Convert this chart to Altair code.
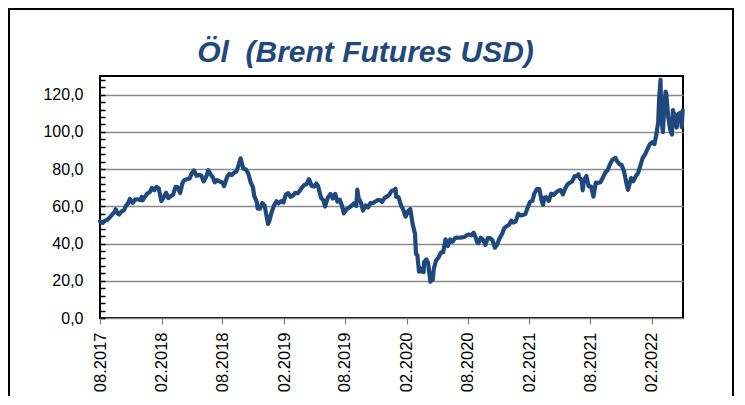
import altair as alt
import pandas as pd

# ---------- data ----------
dates = [
    "2017-08-10", "2017-08-18", "2017-08-25", "2017-09-01", "2017-09-08", "2017-09-15", "2017-09-22", "2017-09-26",
    "2017-10-02", "2017-10-06", "2017-10-13", "2017-10-20", "2017-10-27", "2017-11-03", "2017-11-07", "2017-11-15",
    "2017-11-24", "2017-12-01", "2017-12-08", "2017-12-12", "2017-12-15", "2017-12-22", "2017-12-29",
    "2018-01-05", "2018-01-12", "2018-01-19", "2018-01-25", "2018-02-01", "2018-02-09", "2018-02-16", "2018-02-23",
    "2018-03-02", "2018-03-09", "2018-03-16", "2018-03-23", "2018-03-29", "2018-04-06", "2018-04-13", "2018-04-19",
    "2018-04-27", "2018-05-04", "2018-05-10", "2018-05-17", "2018-05-25", "2018-06-01", "2018-06-08", "2018-06-15",
    "2018-06-22", "2018-06-29", "2018-07-06", "2018-07-13", "2018-07-18", "2018-07-25", "2018-08-03", "2018-08-10",
    "2018-08-15", "2018-08-24", "2018-08-31", "2018-09-07", "2018-09-14", "2018-09-21", "2018-09-28", "2018-10-03",
    "2018-10-11", "2018-10-19", "2018-10-26", "2018-11-02", "2018-11-09", "2018-11-13", "2018-11-20", "2018-11-23",
    "2018-11-30", "2018-12-07", "2018-12-14", "2018-12-18", "2018-12-24", "2018-12-28",
    "2019-01-04", "2019-01-11", "2019-01-18", "2019-01-25", "2019-02-01", "2019-02-08", "2019-02-15", "2019-02-22",
    "2019-03-01", "2019-03-08", "2019-03-15", "2019-03-22", "2019-03-29", "2019-04-05", "2019-04-12", "2019-04-18",
    "2019-04-25", "2019-05-03", "2019-05-10", "2019-05-17", "2019-05-22", "2019-05-31", "2019-06-07", "2019-06-12",
    "2019-06-20", "2019-06-28", "2019-07-05", "2019-07-12", "2019-07-19", "2019-07-26", "2019-08-01", "2019-08-07",
    "2019-08-16", "2019-08-23", "2019-08-30", "2019-09-06", "2019-09-13", "2019-09-16", "2019-09-20", "2019-09-27",
    "2019-10-03", "2019-10-11", "2019-10-18", "2019-10-25", "2019-11-01", "2019-11-08", "2019-11-15", "2019-11-22",
    "2019-11-29", "2019-12-06", "2019-12-13", "2019-12-20", "2019-12-27",
    "2020-01-03", "2020-01-08", "2020-01-10", "2020-01-17", "2020-01-24", "2020-01-31", "2020-02-07", "2020-02-14",
    "2020-02-21", "2020-02-28", "2020-03-06", "2020-03-09", "2020-03-13", "2020-03-18", "2020-03-20", "2020-03-27",
    "2020-04-01", "2020-04-02", "2020-04-09", "2020-04-14", "2020-04-21", "2020-04-24", "2020-04-28", "2020-05-01",
    "2020-05-08", "2020-05-15", "2020-05-22", "2020-05-29", "2020-06-05", "2020-06-12", "2020-06-19", "2020-06-26",
    "2020-07-03", "2020-07-10", "2020-07-17", "2020-07-24", "2020-07-31", "2020-08-07", "2020-08-14", "2020-08-21",
    "2020-08-28", "2020-09-04", "2020-09-08", "2020-09-11", "2020-09-18", "2020-09-25", "2020-10-02", "2020-10-09",
    "2020-10-16", "2020-10-23", "2020-10-30", "2020-11-06", "2020-11-13", "2020-11-20", "2020-11-27", "2020-12-04",
    "2020-12-11", "2020-12-18", "2020-12-24", "2020-12-31",
    "2021-01-08", "2021-01-15", "2021-01-22", "2021-01-29", "2021-02-05", "2021-02-12", "2021-02-19", "2021-02-25",
    "2021-03-05", "2021-03-12", "2021-03-18", "2021-03-23", "2021-03-26", "2021-04-01", "2021-04-09", "2021-04-16",
    "2021-04-23", "2021-04-30", "2021-05-07", "2021-05-14", "2021-05-21", "2021-05-28", "2021-06-04", "2021-06-11",
    "2021-06-18", "2021-06-25", "2021-07-02", "2021-07-06", "2021-07-09", "2021-07-16", "2021-07-19", "2021-07-23",
    "2021-07-30", "2021-08-06", "2021-08-13", "2021-08-20", "2021-08-27", "2021-09-03", "2021-09-10", "2021-09-17",
    "2021-09-24", "2021-10-01", "2021-10-08", "2021-10-15", "2021-10-25", "2021-10-29", "2021-11-05", "2021-11-12",
    "2021-11-19", "2021-11-26", "2021-12-01", "2021-12-03", "2021-12-10", "2021-12-17", "2021-12-24", "2021-12-31",
    "2022-01-07", "2022-01-14", "2022-01-21", "2022-01-26", "2022-02-04", "2022-02-11", "2022-02-18", "2022-02-24",
    "2022-03-01", "2022-03-04", "2022-03-08", "2022-03-10", "2022-03-15", "2022-03-17", "2022-03-23", "2022-03-25",
    "2022-03-31", "2022-04-06", "2022-04-11", "2022-04-14", "2022-04-20", "2022-04-25", "2022-04-29", "2022-05-04",
    "2022-05-09", "2022-05-10", "2022-05-13",
]
prices = [
    52.0, 51.0, 52.3, 52.8, 54.0, 55.5, 56.9, 58.4,
    56.1, 55.6, 57.2, 57.8, 60.4, 62.1, 64.0, 61.9,
    63.8, 63.7, 63.4, 65.0, 63.2, 65.2, 66.9,
    67.6, 69.9, 68.6, 70.4, 69.7, 62.8, 64.8, 67.3,
    64.4, 65.5, 66.2, 70.5, 70.3, 67.1, 72.6, 74.1,
    74.6, 74.9, 77.5, 79.3, 76.4, 76.8, 76.5, 73.4,
    75.6, 79.4, 77.1, 75.3, 72.9, 74.0, 73.2, 72.8,
    70.8, 75.8, 77.4, 76.8, 78.1, 78.8, 82.7, 85.8,
    80.3, 79.8, 77.6, 73.0, 70.2, 65.5, 62.5, 58.8,
    58.7, 61.7, 60.3, 56.3, 50.5, 52.2,
    57.1, 60.5, 62.7, 61.6, 62.8, 62.1, 66.3, 67.1,
    65.1, 65.7, 67.2, 67.0, 68.4, 70.3, 71.6, 71.9,
    74.6, 70.9, 70.6, 72.2, 70.9, 64.5, 63.3, 59.9,
    64.5, 66.6, 64.2, 66.7, 62.5, 63.5, 60.5, 56.2,
    58.6, 59.3, 60.4, 61.5, 60.2, 69.0, 64.3, 61.9,
    57.7, 60.5, 59.4, 61.7, 61.7, 62.5, 63.3, 63.4,
    62.4, 64.4, 65.2, 66.1, 68.2,
    68.6, 69.5, 65.0, 64.9, 60.7, 58.2, 54.5, 57.3,
    58.5, 50.5, 45.3, 34.4, 33.9, 24.9, 26.9, 24.9,
    24.7, 29.9, 31.5, 29.6, 19.5, 21.4, 20.5, 26.4,
    30.9, 32.5, 35.1, 35.3, 42.3, 38.7, 42.2, 41.0,
    42.8, 43.2, 43.1, 43.3, 43.5, 44.4, 44.8, 44.4,
    45.8, 42.7, 40.5, 40.2, 43.2, 41.9, 39.3, 42.9,
    42.9, 41.8, 37.8, 39.5, 42.8, 44.9, 48.2, 49.3,
    50.0, 52.3, 51.3, 51.8,
    56.0, 55.1, 55.4, 55.9, 59.3, 62.4, 62.9, 66.9,
    69.4, 69.2, 63.3, 60.8, 64.6, 64.9, 62.9, 66.8,
    66.1, 67.3, 68.3, 68.7, 66.4, 69.6, 71.9, 72.7,
    73.5, 76.2, 76.2, 77.2, 75.6, 73.6, 68.6, 74.1,
    76.3, 70.7, 70.6, 65.2, 72.7, 72.6, 72.9, 75.3,
    78.1, 79.3, 82.4, 84.9, 86.0, 84.4, 82.7, 82.2,
    78.9, 72.7, 68.9, 69.9, 75.2, 73.5, 76.1, 77.8,
    81.8, 86.1, 87.9, 89.9, 93.3, 94.4, 93.5, 99.1,
    105.0, 118.1, 128.0, 109.3, 99.9, 106.6, 121.6, 120.7,
    107.9, 101.1, 98.5, 111.7, 106.8, 102.3, 109.3, 110.1,
    105.9, 102.5, 111.6,
]
tick_dates = [
    "2017-08-10", "2018-02-10", "2018-08-10", "2019-02-10", "2019-08-10",
    "2020-02-10", "2020-08-10", "2021-02-10", "2021-08-10", "2022-02-10",
]
y_labels = [0, 20, 40, 60, 80, 100, 120]
y_minor = list(range(0, 129, 4))
title_text = "Öl \u00a0(Brent Futures USD)"

df = pd.DataFrame({"date": dates, "price": prices})


def dt(s):
    y, m, d = (int(v) for v in s.split("-"))
    return alt.DateTime(year=y, month=m, date=d, utc=True)


W, H = 583, 242
FONT = "Liberation Sans"
BLUE = "#1F497D"

x_enc = alt.X(
    "date:T",
    scale=alt.Scale(type="utc", domain=[dt("2017-08-10"), dt("2022-05-14")]),
    axis=alt.Axis(
        values=[dt(s) for s in tick_dates],
        format="%m.%Y",
        labelAngle=270,
        labelFontSize=16.5,
        labelFont=FONT,
        labelColor="#000000",
        labelPadding=8,
        tickSize=6,
        tickColor="#7f7f7f",
        tickWidth=1.2,
        domain=False,
        grid=False,
        title=None,
    ),
)

y_scale = alt.Scale(domain=[0, 130], nice=False, zero=True)

base = alt.Chart(df)

grid_layer = base.mark_line(strokeOpacity=0).encode(
    x=x_enc,
    y=alt.Y(
        "price:Q",
        scale=y_scale,
        axis=alt.Axis(
            orient="left",
            values=y_labels,
            labelExpr="replace(format(datum.value, '.1f'), '.', ',')",
            labelFontSize=16,
            labelFont=FONT,
            labelColor="#000000",
            labelPadding=17,
            ticks=False,
            domain=False,
            grid=True,
            gridColor="#8a8a8a",
            gridWidth=1.5,
            title=None,
        ),
    ),
)

line_layer = base.mark_line(color=BLUE, strokeWidth=4.2, strokeJoin="round", strokeCap="round").encode(
    x=x_enc,
    y=alt.Y(
        "price:Q",
        scale=y_scale,
        axis=alt.Axis(
            orient="right",
            offset=-W,
            values=y_minor,
            labels=False,
            grid=False,
            domain=False,
            tickSize=5,
            tickColor="#000000",
            tickWidth=1.5,
            title=None,
        ),
    ),
)

one = pd.DataFrame({"k": [0]})

title_layer = alt.Chart(one).mark_text(
    text=title_text,
    font=FONT,
    fontSize=30,
    fontWeight="bold",
    fontStyle="italic",
    color=BLUE,
    align="center",
    baseline="alphabetic",
).encode(x=alt.value(265.5), y=alt.value(-14))

frame_layer = alt.Chart(one).mark_rect(
    fill=None, fillOpacity=0, stroke="#000000", strokeWidth=2
).encode(
    x=alt.value(-91), x2=alt.value(633), y=alt.value(-67), y2=alt.value(H + 95)
)

chart = (
    alt.layer(grid_layer, line_layer, title_layer, frame_layer)
    .resolve_axis(y="independent")
    .properties(
        width=W,
        height=H,
        autosize=alt.AutoSizeParams(type="none"),
        padding={"left": 92, "top": 68, "right": 54, "bottom": 78},
        background="white",
    )
    .configure_view(stroke="#000000", strokeWidth=2)
)

chart.save("out.html", embed_options={"renderer": "svg", "actions": False})
